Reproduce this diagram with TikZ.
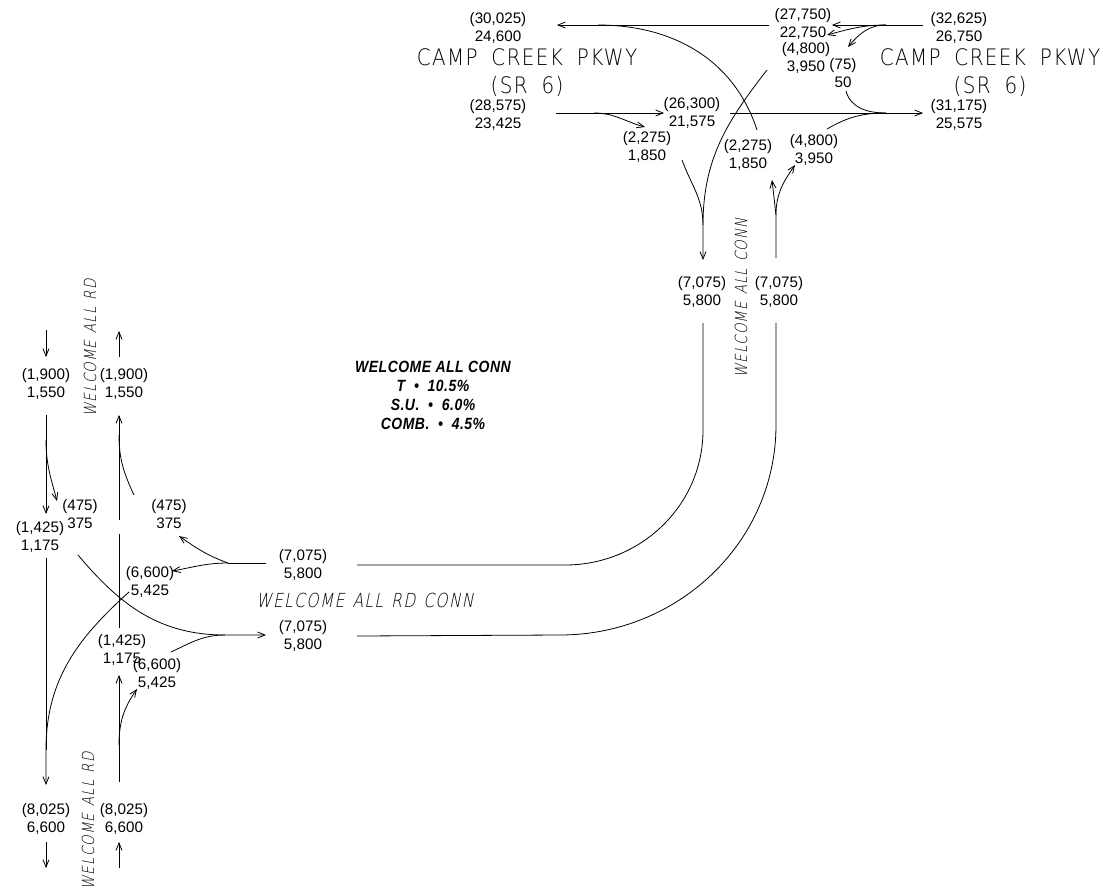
\documentclass[tikz,border=0pt]{standalone}
\usepackage{fontspec}
\setmainfont{Liberation Sans}
\newfontfamily\roadfont[FakeStretch=.88,LetterSpace=6,WordSpace=1.8]{DejaVu Sans ExtraLight}
\newfontfamily\roadslant[FakeStretch=.8,FakeSlant=.2,LetterSpace=7,WordSpace=1.3]{DejaVu Sans ExtraLight}
\newfontfamily\notefont[FakeStretch=.86,LetterSpace=3]{Liberation Sans}
\usetikzlibrary{arrows.meta}
\begin{document}
\begin{tikzpicture}[x=.75pt,y=-.75pt,
 vol/.style={align=center,inner sep=0pt,font=\fontsize{11.4}{13.2}\selectfont},
 road/.style={align=center,inner sep=0pt,font=\roadfont\fontsize{17}{21}\selectfont},
 roadv/.style={inner sep=0pt,font=\roadslant\fontsize{12.5}{14}\selectfont},
 note/.style={align=center,inner sep=0pt,font=\notefont\bfseries\itshape\fontsize{12.2}{14.2}\selectfont},
 lin/.style={draw=black,line width=.6pt},
 arr/.style={-{Straight Barb[length=5.5pt,width=4.5pt]},draw=black,line width=.6pt}]
\useasboundingbox (0,0) rectangle (1103,894);
% top intersection
\node[vol] (wbOut) at (498,28) {(30,025)\\24,600};
\node[vol] (wbThru) at (803,24) {(27,750)\\22,750};
\node[vol] (wbLeft) at (806,58) {(4,800)\\3,950};
\node[vol] (wbRight) at (843,73) {(75)\\50};
\node[vol] (wbIn) at (959,28) {(32,625)\\26,750};
\node[vol] (ebIn) at (498,115) {(28,575)\\23,425};
\node[vol] (ebThru) at (692,113) {(26,300)\\21,575};
\node[vol] (ebRight) at (647,147) {(2,275)\\1,850};
\node[vol] (nbLeft) at (748,155) {(2,275)\\1,850};
\node[vol] (nbRight) at (814,150) {(4,800)\\3,950};
\node[vol] (ebOut) at (959,115) {(31,175)\\25,575};
\node[road] (campW) at (527,73) {CAMP CREEK PKWY\\(SR 6)};
\node[road] (campE) at (990,73) {CAMP CREEK PKWY\\(SR 6)};
\node[vol] (connS) at (702,292) {(7,075)\\5,800};
\node[vol] (connN) at (779,292) {(7,075)\\5,800};
\node[roadv,rotate=90] (connName) at (741,298) {WELCOME ALL CONN};
% truck note
\node[note] (truck) at (433,395) {WELCOME ALL CONN\\T\ \ \textbullet\ \ 10.5\%\\S.U.\ \ \textbullet\ \ 6.0\%\\COMB.\ \ \textbullet\ \ 4.5\%};
% left intersection
\node[roadv,rotate=90] (allN) at (90,348) {WELCOME ALL RD};
\node[vol] (sbIn) at (46,384) {(1,900)\\1,550};
\node[vol] (nbOut) at (124,384) {(1,900)\\1,550};
\node[vol] (sbLeft) at (80,514) {(475)\\375};
\node[vol] (wbLeftB) at (169,514) {(475)\\375};
\node[vol] (sbThru) at (40,537) {(1,425)\\1,175};
\node[vol] (wbIn2) at (303,565) {(7,075)\\5,800};
\node[vol] (wbRightB) at (150,582) {(6,600)\\5,425};
\node[roadv,font=\roadslant\fontsize{14.5}{14}\selectfont] (connW) at (365,600) {WELCOME ALL RD CONN};
\node[vol] (ebOut2) at (303,636) {(7,075)\\5,800};
\node[vol] (nbThru) at (122,650) {(1,425)\\1,175};
\node[vol] (nbRightB) at (157,674) {(6,600)\\5,425};
\node[vol] (sbOut) at (46,819) {(8,025)\\6,600};
\node[vol] (nbIn) at (124,819) {(8,025)\\6,600};
\node[roadv,rotate=90] (allS) at (88,821) {WELCOME ALL RD};
% end points of the connectors
\coordinate (t1) at (769,25); \coordinate (t2) at (557,25); \coordinate (t3) at (598,25);
\coordinate (t4) at (757,130); \coordinate (t5) at (923,25); \coordinate (t6) at (832,25);
\coordinate (t7) at (886,25); \coordinate (t8) at (827,35); \coordinate (t9) at (848,47);
\coordinate (t10) at (767,70); \coordinate (t11) at (703,225); \coordinate (t12) at (703,260);
\coordinate (t13) at (682,160); \coordinate (t14) at (556,113); \coordinate (t15) at (664,113);
\coordinate (t16) at (594,113); \coordinate (t17) at (645,127); \coordinate (t18) at (730,113);
\coordinate (t19) at (923,113); \coordinate (t20) at (846,91); \coordinate (t21) at (886,113);
\coordinate (t22) at (827,129); \coordinate (t23) at (776,258); \coordinate (t24) at (776,215);
\coordinate (t25) at (772,180); \coordinate (t26) at (795,165);
\coordinate (c1) at (703,323); \coordinate (c2) at (703,430); \coordinate (c3) at (565,565);
\coordinate (c4) at (357,565); \coordinate (c5) at (776,323); \coordinate (c6) at (776,425);
\coordinate (c7) at (560,635); \coordinate (c8) at (357,636);
\coordinate (l1) at (46,330); \coordinate (l2) at (46,357); \coordinate (l3) at (119,357);
\coordinate (l4) at (119,331); \coordinate (l5) at (46,415); \coordinate (l6) at (46,514);
\coordinate (l7) at (46,440); \coordinate (l8) at (57,501); \coordinate (l9) at (119,415);
\coordinate (l10) at (119,520); \coordinate (l11) at (119,534); \coordinate (l12) at (119,628);
\coordinate (l13) at (134,495); \coordinate (l14) at (119,435);
\coordinate (l15) at (266,563); \coordinate (l16) at (228,563); \coordinate (l17) at (179,536);
\coordinate (l18) at (172,571); \coordinate (l19) at (78,555); \coordinate (l20) at (225,635);
\coordinate (l21) at (266,635); \coordinate (l22) at (129,592); \coordinate (l23) at (46,750);
\coordinate (l24) at (46,785); \coordinate (l25) at (46,558); \coordinate (l26) at (119,782);
\coordinate (l27) at (119,675); \coordinate (l28) at (119,745); \coordinate (l29) at (137,689);
\coordinate (l30) at (171,652); \coordinate (l31) at (46,842); \coordinate (l32) at (46,868);
\coordinate (l33) at (119,868); \coordinate (l34) at (119,842);
% top connectors
\draw[arr] (t1)--(t2);
\draw[lin] (t3) to[out=0,in=108] (t4);
\draw[arr] (t5)--(t6);
\draw[arr] (t7) to[out=180,in=15] (t8);
\draw[arr] (t7) to[out=180,in=50] (t9);
\draw[arr] (t10) to[out=-128,in=90] (t11)--(t12);
\draw[lin] (t13) to[out=-70,in=90] (t11);
\draw[arr] (t14)--(t15);
\draw[arr] (t16) to[out=0,in=165] (t17);
\draw[arr] (t18)--(t19);
\draw[lin] (t20) to[out=-75,in=180] (t21);
\draw[lin] (t22) to[out=30,in=180] (t21);
\draw[arr] (t23)--(t24)--(t25);
\draw[arr] (t24) to[out=90,in=-125] (t26);
% connector road
\draw[lin] (c1)--(c2) to[out=-90,in=0] (c3)--(c4);
\draw[lin] (c5)--(c6) to[out=-90,in=0] (c7)--(c8);
% left connectors
\draw[arr] (l1)--(l2);
\draw[arr] (l3)--(l4);
\draw[arr] (l5)--(l6);
\draw[arr] (l7) to[out=-90,in=105] (l8);
\draw[arr] (l10)--(l9);
\draw[lin] (l11)--(l12);
\draw[lin] (l13) to[out=115,in=-90] (l14);
\draw[lin] (l15)--(l16);
\draw[arr] (l16) to[out=160,in=-35] (l17);
\draw[arr] (l16) to[out=180,in=10] (l18);
\draw[arr] (l19) to[out=-50,in=180] (l20)--(l21);
\draw[arr] (l22) to[out=-138,in=90] (l23)--(l24);
\draw[lin] (l25)--(l23);
\draw[arr] (l26)--(l27);
\draw[arr] (l28) to[out=90,in=-125] (l29);
\draw[lin] (l30) to[out=25,in=180] (l20);
\draw[arr] (l31)--(l32);
\draw[arr] (l33)--(l34);
\end{tikzpicture}
\end{document}
